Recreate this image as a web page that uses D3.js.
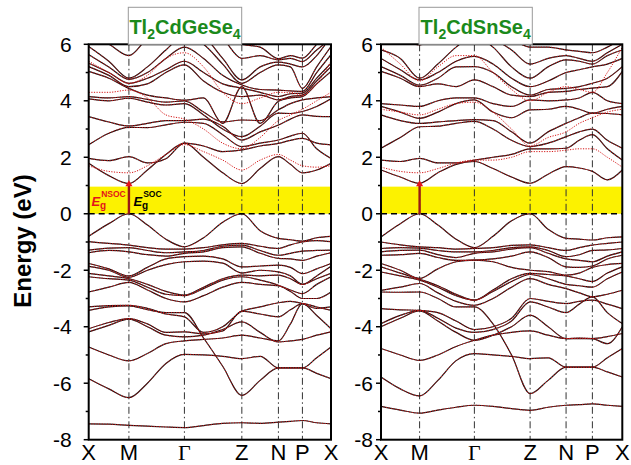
<!DOCTYPE html>
<html>
<head>
<meta charset="utf-8">
<script src="https://cdn.jsdelivr.net/npm/d3@7"></script>
<style>
  body { margin: 0; background: #fff; }
  text { font-family: "Liberation Sans", Arial, sans-serif; }
</style>
</head>
<body>
<svg id="chart" width="631" height="465"></svg>
<script>
// high symmetry path labels and y ticks
const kLabels = ["X", "M", "Γ", "Z", "N", "P", "X"];
const yTicks = [-8, -6, -4, -2, 0, 2, 4, 6];
const gapTop = 0.96;     // top of yellow gap region (eV)
const cbMin = 1.08;      // arrow top at M

// positions of high symmetry points along k (fraction of path)
const kGe = [0, 0.166, 0.395, 0.632, 0.783, 0.882, 1];
const kSn = [0, 0.160, 0.387, 0.618, 0.767, 0.876, 1];

// energies at X, XM, M, MΓ(1/3), MΓ(2/3), Γ, ΓZ(1/3), ΓZ(2/3), Z, ZN, N, NP, P, PX, X
const geSoc = [
  [-0.8, -0.35, 0, -0.4, -0.9, -1.17, -0.85, -0.3, 0, -0.6, -0.87, -0.92, -0.97, -0.85, -0.8],
  [-0.99, -1.05, -1.11, -1.2, -1.25, -1.25, -1.2, -1.1, -1.05, -1.15, -1.23, -1.1, -1.0, -0.95, -0.99],
  [-1.29, -1.22, -1.2, -1.3, -1.38, -1.35, -1.3, -1.15, -1.11, -1.3, -1.47, -1.4, -1.32, -1.3, -1.29],
  [-1.38, -1.3, -1.35, -1.45, -1.5, -1.4, -1.35, -1.2, -1.17, -1.4, -1.58, -1.6, -1.65, -1.5, -1.38],
  [-1.76, -1.95, -2.2, -1.9, -1.6, -1.52, -1.5, -1.6, -1.88, -1.85, -1.82, -1.9, -2.12, -1.95, -1.76],
  [-1.86, -2.0, -2.25, -2.0, -1.8, -1.7, -1.68, -1.75, -2.1, -2.0, -2.06, -2.2, -2.5, -2.2, -1.86],
  [-2.11, -2.2, -2.3, -2.5, -2.75, -2.88, -2.6, -2.3, -2.17, -2.2, -2.17, -2.3, -2.5, -2.3, -2.11],
  [-2.23, -2.3, -2.35, -2.6, -2.85, -2.9, -2.65, -2.35, -2.23, -2.35, -2.53, -2.7, -2.83, -2.5, -2.23],
  [-2.77, -2.6, -2.43, -2.7, -3.0, -3.12, -2.9, -2.6, -2.43, -2.5, -2.55, -2.75, -3.0, -3.0, -2.77],
  [-3.3, -3.25, -3.24, -3.35, -3.55, -3.65, -4.2, -4.0, -3.45, -3.3, -3.15, -3.1, -3.18, -3.35, -3.3],
  [-3.42, -3.3, -3.26, -3.4, -3.5, -3.5, -4.4, -5.4, -6.43, -5.9, -5.46, -5.46, -5.46, -5.1, -4.72],
  [-4.07, -3.85, -3.71, -3.9, -4.2, -4.18, -4.25, -4.15, -3.45, -3.55, -3.65, -3.4, -3.18, -3.3, -3.42],
  [-4.18, -3.95, -3.73, -4.0, -4.3, -4.36, -4.3, -4.1, -3.83, -4.2, -4.54, -4.5, -4.45, -4.3, -4.18],
  [-4.72, -5.0, -5.21, -4.95, -4.6, -4.5, -4.45, -4.4, -4.3, -4.4, -4.5, -3.9, -3.18, -3.6, -4.07],
  [-5.84, -6.2, -6.51, -6.0, -5.3, -4.98, -5.0, -5.05, -5.13, -5.05, -5.46, -5.46, -5.46, -5.65, -5.84],
  [-7.44, -7.45, -7.49, -7.52, -7.55, -7.57, -7.5, -7.42, -7.4, -7.42, -7.38, -7.35, -7.32, -7.4, -7.44],
  [1.79, 1.35, 1.07, 1.55, 2.1, 2.5, 2.0, 1.45, 1.07, 1.6, 2.02, 1.75, 1.45, 1.55, 1.79],
  [1.96, 1.88, 2.02, 1.8, 1.95, 2.5, 2.4, 2.2, 2.26, 2.4, 2.49, 2.6, 2.67, 2.5, 2.44],
  [2.44, 2.85, 3.06, 3.05, 3.15, 3.24, 3.2, 2.8, 2.38, 2.5, 2.61, 2.75, 2.85, 2.3, 1.96],
  [3.44, 3.25, 3.11, 3.2, 3.3, 3.3, 3.35, 3.1, 2.61, 2.9, 3.14, 3.35, 3.5, 3.45, 3.44],
  [4.07, 4.0, 4.09, 3.95, 3.85, 3.9, 3.5, 3.0, 2.73, 3.1, 3.56, 3.55, 3.62, 3.8, 4.07],
  [4.15, 4.1, 4.15, 4.05, 3.95, 4.0, 3.6, 3.25, 3.32, 3.3, 3.68, 3.9, 4.03, 4.1, 4.15],
  [5.04, 4.8, 4.44, 4.2, 4.1, 4.02, 4.1, 3.2, 4.5, 3.2, 3.98, 4.1, 4.15, 4.6, 5.04],
  [5.21, 4.9, 4.5, 4.6, 5.0, 5.27, 4.7, 4.3, 4.15, 4.2, 4.03, 4.15, 4.2, 4.7, 5.21],
  [5.33, 5.0, 4.62, 4.8, 5.1, 5.4, 5.0, 4.6, 4.45, 4.3, 4.15, 4.25, 4.27, 4.8, 5.33],
  [5.63, 5.2, 4.76, 5.0, 5.5, 5.9, 5.5, 4.9, 4.56, 4.4, 4.38, 4.35, 4.33, 5.0, 5.63],
  [5.92, 5.4, 4.8, 5.2, 5.8, 6.3, 6.0, 5.3, 4.62, 5.0, 5.27, 5.2, 4.44, 5.2, 5.92],
  [6.3, 6.0, 5.6, 6.2, 6.5, 6.6, 6.3, 5.5, 4.74, 5.2, 5.37, 5.3, 5.2, 5.6, 6.3],
  [6.6, 6.4, 6.2, 6.5, 6.7, 6.8, 6.6, 6.2, 5.5, 5.6, 5.45, 5.5, 5.39, 5.8, 6.2],
  [6.9, 6.7, 6.5, 6.8, 7.0, 7.0, 7.0, 6.6, 6.0, 5.9, 5.49, 5.6, 5.51, 6.0, 6.5]
];
// bands that only show as red dotted (no SOC) where they split off
const geNsoc = [
  [1.7, 1.5, 1.45, 1.7, 2.1, 2.45, 2.2, 1.9, 1.55, 1.9, 2.1, 1.9, 1.7, 1.65, 1.7],
  [4.3, 4.3, 4.38, 4.1, 3.5, 3.35, 3.0, 2.5, 2.3, 2.7, 3.3, 3.5, 3.7, 4.0, 4.3],
  [5.4, 5.0, 4.62, 4.9, 5.5, 5.7, 5.2, 4.3, 3.9, 4.1, 4.3, 4.3, 4.2, 4.6, 5.4]
];

const snSoc = [
  [-0.82, -0.35, 0, -0.4, -0.9, -1.2, -0.8, -0.25, 0, -0.55, -0.87, -0.9, -0.93, -0.85, -0.82],
  [-1.0, -1.1, -1.17, -1.2, -1.25, -1.23, -1.2, -1.12, -1.1, -1.2, -1.3, -1.2, -1.11, -1.05, -1.0],
  [-1.23, -1.2, -1.22, -1.3, -1.35, -1.35, -1.3, -1.2, -1.17, -1.3, -1.52, -1.45, -1.3, -1.28, -1.23],
  [-1.35, -1.3, -1.29, -1.45, -1.55, -1.4, -1.35, -1.25, -1.2, -1.4, -1.6, -1.65, -1.7, -1.5, -1.35],
  [-1.47, -1.45, -1.4, -1.55, -1.65, -1.64, -1.6, -1.5, -1.35, -1.55, -1.88, -1.9, -1.85, -1.6, -1.47],
  [-1.76, -2.0, -2.29, -1.95, -1.7, -1.64, -1.7, -1.9, -2.0, -2.05, -2.17, -2.1, -1.9, -1.8, -1.76],
  [-1.88, -2.1, -2.32, -2.55, -2.85, -3.06, -2.7, -2.3, -2.11, -2.15, -2.2, -2.3, -2.4, -2.1, -1.88],
  [-2.06, -2.2, -2.35, -2.6, -2.9, -3.06, -2.75, -2.4, -2.15, -2.3, -2.5, -2.55, -2.6, -2.3, -2.06],
  [-2.71, -2.6, -2.47, -2.8, -3.1, -3.24, -3.0, -2.6, -2.3, -2.5, -2.65, -2.8, -2.94, -2.85, -2.71],
  [-2.77, -2.78, -2.77, -3.0, -3.3, -3.3, -3.9, -5.0, -6.37, -5.9, -5.43, -5.43, -5.43, -5.1, -4.77],
  [-3.36, -3.4, -3.42, -3.5, -3.8, -4.1, -4.0, -3.7, -3.0, -3.1, -3.18, -3.1, -3.06, -3.2, -3.36],
  [-3.89, -3.6, -3.42, -3.7, -4.05, -4.2, -4.1, -3.8, -3.12, -3.3, -3.5, -3.2, -2.94, -3.5, -3.89],
  [-4.0, -3.7, -3.44, -3.8, -4.2, -4.48, -4.3, -4.0, -3.59, -4.0, -4.42, -4.42, -4.42, -4.35, -4.24],
  [-4.77, -5.0, -5.19, -5.0, -4.7, -4.48, -4.3, -4.2, -4.15, -4.3, -4.42, -4.4, -4.42, -4.6, -4.0],
  [-5.78, -6.2, -6.45, -5.9, -5.2, -4.95, -5.0, -5.05, -5.13, -5.1, -5.43, -5.43, -5.43, -5.6, -5.78],
  [-6.82, -6.95, -7.06, -6.95, -6.85, -6.78, -6.82, -6.9, -6.96, -6.85, -6.78, -6.76, -6.73, -6.78, -6.82],
  [1.55, 1.3, 1.08, 1.45, 1.75, 1.85, 1.6, 1.3, 1.08, 1.4, 1.67, 1.62, 1.5, 1.2, 1.55],
  [1.9, 1.85, 1.96, 1.8, 1.8, 1.9, 2.0, 2.1, 2.3, 2.3, 2.32, 2.6, 2.8, 2.3, 1.9],
  [2.32, 2.7, 3.08, 3.1, 3.2, 3.27, 3.0, 2.6, 2.38, 2.5, 2.73, 2.9, 3.0, 2.6, 2.32],
  [3.5, 3.3, 3.2, 3.25, 3.3, 3.33, 3.3, 2.9, 2.5, 2.9, 3.2, 3.4, 3.56, 3.55, 3.5],
  [3.8, 3.6, 3.38, 3.6, 3.9, 4.03, 3.6, 3.4, 3.68, 3.7, 3.8, 3.7, 3.56, 3.7, 3.8],
  [3.9, 3.85, 3.8, 4.0, 4.1, 4.1, 3.9, 3.8, 4.03, 4.0, 4.03, 4.1, 4.3, 4.0, 3.9],
  [5.04, 4.8, 4.5, 4.6, 4.5, 4.74, 4.5, 4.2, 4.15, 4.3, 4.33, 4.4, 4.45, 4.5, 5.04],
  [5.21, 4.9, 4.55, 4.8, 5.2, 5.21, 5.0, 4.5, 4.2, 4.4, 4.44, 4.5, 4.62, 4.8, 5.21],
  [5.5, 5.1, 4.74, 5.0, 5.4, 5.57, 5.3, 4.8, 4.5, 4.7, 5.0, 5.1, 5.2, 5.3, 5.5],
  [5.8, 5.5, 4.8, 5.3, 5.9, 6.3, 5.9, 5.2, 4.8, 5.2, 5.45, 5.4, 5.3, 5.6, 5.8],
  [6.2, 6.1, 5.98, 6.2, 6.4, 6.5, 6.2, 5.8, 5.3, 5.5, 5.6, 5.5, 5.4, 5.7, 6.0],
  [6.5, 6.4, 6.3, 6.5, 6.6, 6.7, 6.5, 6.2, 5.9, 5.9, 5.8, 5.75, 5.7, 5.9, 6.2]
];
const snNsoc = [
  [1.65, 1.5, 1.45, 1.6, 1.8, 1.9, 1.9, 2.0, 2.2, 2.2, 2.25, 2.3, 2.3, 2.0, 1.65],
  [3.7, 3.6, 3.5, 3.7, 3.9, 3.95, 3.6, 3.0, 2.4, 2.7, 2.9, 3.2, 3.4, 3.6, 3.7],
  [5.9, 5.3, 4.7, 5.2, 5.6, 5.6, 5.0, 4.4, 4.0, 4.3, 4.5, 4.4, 4.3, 5.0, 5.9]
];

const svg = d3.select("#chart");
const plotTop = 44.3, plotBottom = 439.7;
const y = d3.scaleLinear().domain([-8, 6]).range([plotBottom, plotTop]);

// k positions of the 15 sampled points along the path
function kGrid(nodes) {
    const subs = [2, 3, 3, 2, 2, 2];
    let out = [];
    for (let i = 0; i < subs.length; i++) {
        for (let j = 0; j < subs[i]; j++) {
            out.push(nodes[i] + (nodes[i + 1] - nodes[i]) * j / subs[i]);
        }
    }
    out.push(1);
    return out;
}

function drawPanel(p) {
    let x = d3.scaleLinear().domain([0, 1]).range([p.x0, p.x1]);
    let ks = kGrid(p.nodes);
    let g = svg.append("g");

    g.append("clipPath").attr("id", p.id + "clip")
        .append("rect").attr("x", p.x0).attr("y", plotTop)
        .attr("width", p.x1 - p.x0).attr("height", plotBottom - plotTop);

    // gap region
    g.append("rect").attr("x", p.x0).attr("y", y(gapTop))
        .attr("width", p.x1 - p.x0).attr("height", y(0) - y(gapTop))
        .attr("fill", "#fcf200");

    // high symmetry lines
    g.selectAll(".kline").data(p.nodes.slice(1, -1)).enter().append("line")
        .attr("x1", d => x(d)).attr("x2", d => x(d))
        .attr("y1", plotTop).attr("y2", plotBottom)
        .attr("stroke", "#333").attr("stroke-width", 1)
        .attr("stroke-dasharray", "7,3,1.5,3");

    let line = d3.line()
        .x((d, i) => x(ks[i]))
        .y(d => y(d))
        .curve(d3.curveMonotoneX);

    let bands = g.append("g").attr("clip-path", "url(#" + p.id + "clip)");

    bands.selectAll(".soc").data(p.soc).enter().append("path")
        .attr("d", line).attr("fill", "none")
        .attr("stroke", "#151515").attr("stroke-width", 1.2);

    bands.selectAll(".nsoc").data(p.soc.concat(p.nsoc)).enter().append("path")
        .attr("d", line).attr("fill", "none")
        .attr("stroke", "#d41515").attr("stroke-width", 1.0)
        .attr("stroke-dasharray", "1.2,1.4");

    // fermi level
    g.append("line").attr("x1", p.x0).attr("x2", p.x1)
        .attr("y1", y(0)).attr("y2", y(0))
        .attr("stroke", "#000").attr("stroke-width", 1.6)
        .attr("stroke-dasharray", "6,4");

    // gap arrow at M
    let xm = x(p.nodes[1]);
    g.append("line").attr("x1", xm).attr("x2", xm)
        .attr("y1", y(0)).attr("y2", y(cbMin))
        .attr("stroke", "#9a1a14").attr("stroke-width", 2.4);
    g.append("path").attr("d", d3.symbol(d3.symbolTriangle, 22)())
        .attr("transform", "translate(" + xm + "," + (y(cbMin) + 1) + ")")
        .attr("fill", "#e8141b");

    // frame
    g.append("rect").attr("x", p.x0).attr("y", plotTop)
        .attr("width", p.x1 - p.x0).attr("height", plotBottom - plotTop)
        .attr("fill", "none").attr("stroke", "#000").attr("stroke-width", 2);

    // y ticks (major + minor) pointing out
    let minor = d3.range(-7, 6, 2);
    g.selectAll(".minor").data(minor).enter().append("line")
        .attr("x1", p.x0 - 3).attr("x2", p.x0)
        .attr("y1", d => y(d)).attr("y2", d => y(d))
        .attr("stroke", "#000").attr("stroke-width", 1.5);
    g.selectAll(".major").data(yTicks).enter().append("line")
        .attr("x1", p.x0 - 5).attr("x2", p.x0)
        .attr("y1", d => y(d)).attr("y2", d => y(d))
        .attr("stroke", "#000").attr("stroke-width", 1.5);
    g.selectAll(".ylab").data(yTicks).enter().append("text")
        .attr("x", p.x0 - p.labGap).attr("y", d => y(d)).attr("dy", "0.36em")
        .attr("text-anchor", "end").attr("font-size", 21)
        .text(d => d);

    // k labels
    g.selectAll(".klab").data(p.nodes).enter().append("text")
        .attr("x", d => x(d)).attr("y", 459.5)
        .attr("text-anchor", "middle").attr("font-size", 22)
        .style("font-family", (d, i) => kLabels[i] === "Γ" ? "'Liberation Serif', serif" : null)
        .text((d, i) => kLabels[i]);

    // title box
    g.append("rect").attr("x", p.boxX).attr("y", 7.3)
        .attr("width", p.boxW).attr("height", plotTop - 7.3)
        .attr("fill", "#fff").attr("stroke", "#999").attr("stroke-width", 1);
    let t = g.append("text").attr("x", p.boxX + p.boxW / 2).attr("y", 33.5)
        .attr("text-anchor", "middle").attr("font-size", 20)
        .attr("font-weight", "bold").attr("fill", "#1b8a1b");
    t.append("tspan").text("Tl");
    t.append("tspan").attr("font-size", 14).attr("dy", 5).text("2");
    t.append("tspan").attr("dy", -5).text(p.mid);
    t.append("tspan").attr("font-size", 14).attr("dy", 5).text("4");

    return x;
}

drawPanel({ id: "ge", x0: 88.7, x1: 331, nodes: kGe, soc: geSoc, nsoc: geNsoc,
    labGap: 17, boxX: 128.3, boxW: 113.4, mid: "CdGeSe" });
drawPanel({ id: "sn", x0: 381, x1: 622.3, nodes: kSn, soc: snSoc, nsoc: snNsoc,
    labGap: 8, boxX: 419, boxW: 113.3, mid: "CdSnSe" });

// gap labels in the left panel
const egLab = [
    { x: 91.5, sup: "NSOC", color: "#e3141b" },
    { x: 133.5, sup: "SOC", color: "#000" }
];
egLab.forEach(function (d) {
    let t = svg.append("text").attr("x", d.x).attr("y", 205.5)
        .attr("font-size", 13).attr("font-weight", "bold").attr("fill", d.color);
    t.append("tspan").attr("font-style", "italic").text("E");
    t.append("tspan").attr("font-size", 8.5).attr("dy", -9).attr("dx", 1).text(d.sup);
    svg.append("text").attr("x", d.x + 8.5).attr("y", 209)
        .attr("font-size", 10).attr("font-weight", "bold").attr("fill", d.color)
        .text("g");
});

// y axis title
svg.append("text")
    .attr("transform", "translate(31,241) rotate(-90)")
    .attr("text-anchor", "middle").attr("font-size", 24).attr("font-weight", "bold")
    .text("Energy (eV)");
</script>
</body>
</html>
